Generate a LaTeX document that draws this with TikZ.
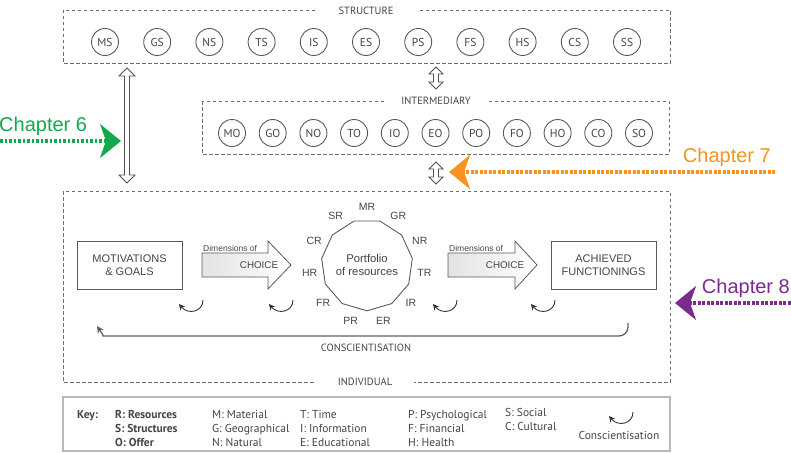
\documentclass[tikz,border=0pt]{standalone}
\usepackage{fontspec}
\setmainfont{Liberation Sans}
\newfontfamily\ptsans{PT Sans}
\usetikzlibrary{arrows.meta,shapes.geometric,calc}
\definecolor{txt}{HTML}{444444}
\definecolor{ln}{HTML}{5A5A5A}
\definecolor{dsh}{HTML}{6E6E6E}
\definecolor{chgreen}{HTML}{14A84E}
\definecolor{chorange}{HTML}{F7931E}
\definecolor{chpurple}{HTML}{7B2A8E}
\newcommand\vdarrow[6]{%
  \draw[hollowarr] (#1,#2) -- ({#1+#5},{#2+#6}) -- ({#1+#4},{#2+#6}) -- ({#1+#4},{#3-#6}) -- ({#1+#5},{#3-#6}) -- (#1,#3) -- ({#1-#5},{#3-#6}) -- ({#1-#4},{#3-#6}) -- ({#1-#4},{#2+#6}) -- ({#1-#5},{#2+#6}) -- cycle;}
\begin{document}
\begin{tikzpicture}[x=1pt,y=-1pt,
  circ/.style={circle,draw=ln,line width=0.9pt,minimum size=27pt,inner sep=0pt,text=txt,font=\ptsans\fontsize{11.5}{12}\selectfont},
  dbox/.style={draw=dsh,line width=0.7pt,dash pattern=on 3.5pt off 2.5pt},
  boxlab/.style={fill=white,text=txt,font=\ptsans\fontsize{10.5}{12}\selectfont,inner ysep=1pt},
  tbox/.style={draw=ln,line width=0.9pt,minimum width=105pt,minimum height=48pt,align=center,text=txt,font=\fontsize{11}{13.5}\selectfont},
  bigarr/.style={draw=ln,line width=0.8pt,left color=gray!22,right color=white},
  dimlab/.style={text=txt,font=\fontsize{8.5}{10}\selectfont,inner sep=0pt},
  choicelab/.style={text=txt,font=\fontsize{9.8}{11}\selectfont},
  reslab/.style={text=txt,font=\fontsize{10.5}{11}\selectfont,inner sep=0pt},
  hollowarr/.style={draw=ln!90!black,line width=0.8pt,fill=white,line join=miter},
  chap/.style={line width=3.2pt,dash pattern=on 2.8pt off 1.7pt,-{Stealth[length=21pt,width=34pt,inset=6pt]}},
  chaplab/.style={font=\fontsize{20}{23}\selectfont,inner sep=0pt},
  consc/.style={draw=black!80,line width=0.9pt,-{Stealth[length=6pt,width=6pt]}},
  keytxt/.style={text=txt,font=\ptsans\fontsize{11.5}{13}\selectfont,inner sep=0pt,anchor=base west},
  keybold/.style={keytxt,font=\ptsans\bfseries\fontsize{11.5}{13}\selectfont},
  pics/conscicon/.style={code={\draw[consc] (0,0) .. controls (0,12) and (-15,15) .. (-24,4);}}
]
\useasboundingbox (0,0) rectangle (791,452);
% dashed level boxes
\draw[dbox] (63,10) rectangle (670,63);
\node[boxlab,inner xsep=24pt] (lstruct) at (366,11) {STRUCTURE};
\draw[dbox] (202,101) rectangle (669,154);
\node[boxlab,inner xsep=17pt] (linter) at (436,101) {INTERMEDIARY};
\draw[dbox] (63,191) rectangle (670,382);
\node[boxlab,inner xsep=22pt] (lindiv) at (365,382) {INDIVIDUAL};
% circles
\foreach \l [count=\i from 0] in {MS,GS,NS,TS,IS,ES,PS,FS,HS,CS,SS}
  \node[circ] (s\l) at ({105+\i*52.2},42) {\l};
\foreach \l [count=\i from 0] in {MO,GO,NO,TO,IO,EO,PO,FO,HO,CO,SO}
  \node[circ] (o\l) at ({232+\i*40.7},133) {\l};
% hollow double arrows
\vdarrow{436}{67}{89}{2.5}{7}{7}
\vdarrow{436}{162}{184}{2.5}{7}{7}
\vdarrow{127}{68}{183}{2.5}{8}{8}
% chapter arrows
\coordinate (c6s) at (0,141); \coordinate (c6e) at (121,141);
\draw[chap,chgreen] (c6s) -- (c6e);
\node[chaplab,text=chgreen,anchor=west] (ch6) at (-1,126) {Chapter 6};
\coordinate (c7s) at (775,172); \coordinate (c7e) at (449,172);
\draw[chap,chorange] (c7s) -- (c7e);
\node[chaplab,text=chorange,anchor=east] (ch7) at (771,157) {Chapter 7};
\coordinate (c8s) at (795,303); \coordinate (c8e) at (675,303);
\draw[chap,chpurple] (c8s) -- (c8e);
\node[chaplab,text=chpurple,anchor=east] (ch8) at (790,288) {Chapter 8};
% individual level
\node[tbox] (mot) at (129.5,265) {MOTIVATIONS\\\& GOALS};
\node[tbox] (ach) at (603.5,265) {ACHIEVED\\FUNCTIONINGS};
\draw[bigarr] (202,253) -- (268,253) -- (268,241) -- (291,265) -- (268,289) -- (268,277) -- (202,277) -- cycle;
\node[dimlab,anchor=base west] (dim1) at (203,251) {Dimensions of};
\node[choicelab] (cho1) at (259,265) {CHOICE};
\draw[bigarr] (448,253) -- (515,253) -- (515,241) -- (537,265) -- (515,289) -- (515,277) -- (448,277) -- cycle;
\node[dimlab,anchor=base west] (dim2) at (449,251) {Dimensions of};
\node[choicelab] (cho2) at (505,265) {CHOICE};
\node[regular polygon,regular polygon sides=11,shape border rotate=180,minimum size=90pt,draw=ln,line width=0.9pt,inner sep=0pt,align=center,text=txt,font=\fontsize{11.3}{13}\selectfont] (port) at (367,265) {Portfolio\\of resources};
\foreach \l [count=\i from 0] in {MR,GR,NR,TR,IR,ER,PR,FR,HR,CR,SR}
  \node[reslab] (r\l) at ($(port.center)+({-90+\i*360/11}:58)$) {\l};
% conscientisation
\pic (cc1) at (203,300) {conscicon};
\pic (cc2) at (293,300) {conscicon};
\pic (cc3) at (457,300) {conscicon};
\pic (cc4) at (555,300) {conscicon};
\draw[consc,line width=1.3pt,draw=black!62,-{Stealth[length=7pt,width=7pt]}] (628,323) [rounded corners=9pt] |- (112,336) [sharp corners] .. controls (104,336) and (101,332) .. (97,326);
\node[boxlab,fill=none] (lconsc) at (366,348) {CONSCIENTISATION};
% key
\draw[draw=gray!55,line width=1.6pt] (63,397) rectangle (670,451);
\node[keybold] (kkey) at (77,418) {Key:};
\node[keybold] (kR) at (115,418) {R: Resources};
\node[keybold] (kS) at (115,432) {S: Structures};
\node[keybold] (kO) at (115,446) {O: Offer};
\node[keytxt] (kM) at (212,418) {M: Material};
\node[keytxt] (kG) at (212,432) {G: Geographical};
\node[keytxt] (kN) at (212,446) {N: Natural};
\node[keytxt] (kT) at (300,418) {T: Time};
\node[keytxt] (kI) at (300,432) {I: Information};
\node[keytxt] (kE) at (300,446) {E: Educational};
\node[keytxt] (kP) at (408,418) {P: Psychological};
\node[keytxt] (kF) at (408,432) {F: Financial};
\node[keytxt] (kH) at (408,446) {H: Health};
\node[keytxt] (kSo) at (505,416) {S: Social};
\node[keytxt] (kC) at (505,430) {C: Cultural};
\pic (kc) at (633,412) {conscicon};
\node[keytxt,anchor=base] (kconsc) at (619,439) {Conscientisation};
\end{tikzpicture}
\end{document}
